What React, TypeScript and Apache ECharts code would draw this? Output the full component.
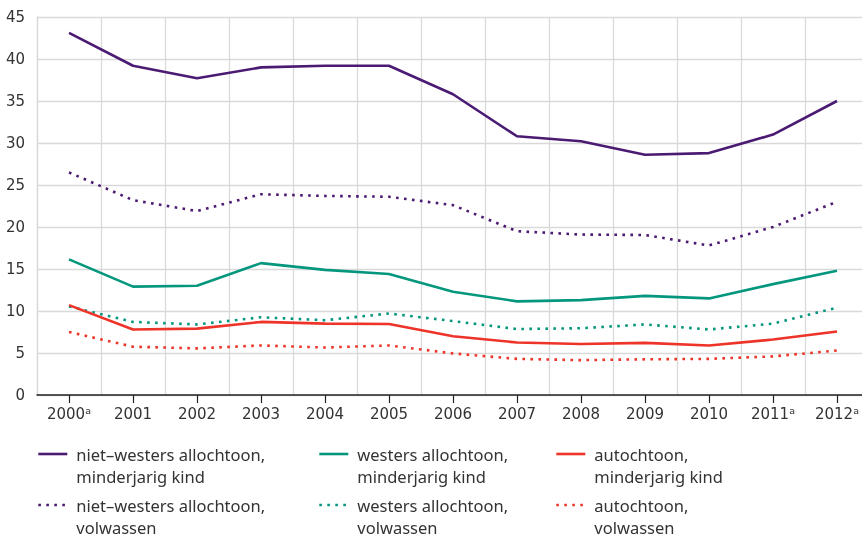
import React, { useEffect, useRef } from "react";
import * as echarts from "echarts";

const years = ["2000ᵃ", "2001", "2002", "2003", "2004", "2005", "2006", "2007", "2008", "2009", "2010", "2011ᵃ", "2012ᵃ"];
const yTicks = [0, 5, 10, 15, 20, 25, 30, 35, 40, 45];

const nwKind = [43.1, 39.2, 37.7, 39.0, 39.2, 39.2, 35.8, 30.8, 30.2, 28.6, 28.8, 31.0, 35.0];
const nwVolw = [26.5, 23.2, 21.9, 23.9, 23.7, 23.6, 22.6, 19.5, 19.1, 19.05, 17.8, 20.0, 23.0];
const wKind = [16.15, 12.9, 13.0, 15.7, 14.9, 14.4, 12.3, 11.15, 11.3, 11.8, 11.5, 13.2, 14.8];
const wVolw = [10.55, 8.7, 8.4, 9.25, 8.9, 9.7, 8.8, 7.85, 7.95, 8.4, 7.8, 8.5, 10.4];
const aKind = [10.7, 7.8, 7.9, 8.7, 8.5, 8.45, 7.0, 6.25, 6.07, 6.2, 5.9, 6.6, 7.55];
const aVolw = [7.5, 5.75, 5.55, 5.9, 5.65, 5.9, 4.95, 4.3, 4.15, 4.25, 4.3, 4.6, 5.3];

const names = [
  "niet–westers allochtoon,\nminderjarig kind",
  "westers allochtoon,\nminderjarig kind",
  "autochtoon,\nminderjarig kind",
  "niet–westers allochtoon,\nvolwassen",
  "westers allochtoon,\nvolwassen",
  "autochtoon,\nvolwassen",
];
const colors = ["#4b1a72", "#05977d", "#ee3328", "#4b1a72", "#05977d", "#ee3328"];
const seriesData = [nwKind, wKind, aKind, nwVolw, wVolw, aVolw];

const FONT = "Noto Sans";
const AXIS_FONT = "DejaVu Sans";
const TEXT = "#333333";
const GRID = "#d9d9d9";

export default function App() {
  const ref = useRef<HTMLDivElement>(null);
  useEffect(() => {
    if (!ref.current) return;
    const chart = echarts.init(ref.current, undefined, { renderer: "svg" });
    const legendPos = [
      [37, 0],
      [318, 0],
      [555, 0],
      [37, 1],
      [318, 1],
      [555, 1],
    ];
    const legends = names.map((n, i) => ({
      data: [n],
      left: legendPos[i][0],
      top: 421 + legendPos[i][1] * 51,
      itemWidth: 29,
      itemHeight: 14,
      itemGap: 0,
      padding: 0,
      selectedMode: false,
      itemStyle: { opacity: 0 },
      lineStyle: { width: 2.6 },
      formatter: (name: string) => "\n" + name,
      textStyle: {
        fontFamily: FONT,
        fontSize: 16.5,
        color: TEXT,
        lineHeight: 22,
        padding: [0, 0, 0, 4],
      },
    }));
    chart.setOption({
      animation: false,
      textStyle: { fontFamily: FONT },
      grid: { left: 37, right: 0, top: 17, bottom: 142, containLabel: false },
      legend: legends,
      xAxis: {
        type: "category",
        data: years,
        boundaryGap: true,
        axisLine: { show: true, lineStyle: { color: "#222", width: 1.5 } },
        axisTick: { show: true, alignWithLabel: true, length: 8, lineStyle: { color: "#222", width: 1.2 } },
        axisLabel: { color: TEXT, fontSize: 15, fontFamily: AXIS_FONT, margin: 11 },
        splitLine: { show: true, lineStyle: { color: GRID, width: 1.3 } },
      },
      yAxis: {
        type: "value",
        min: yTicks[0],
        max: yTicks[yTicks.length - 1],
        interval: 5,
        axisLine: { show: true, lineStyle: { color: GRID, width: 1.3 } },
        axisTick: { show: false },
        axisLabel: { color: TEXT, fontSize: 15, fontFamily: AXIS_FONT, margin: 12 },
        splitLine: { show: true, lineStyle: { color: GRID, width: 1.3 } },
      },
      series: seriesData.map((d, i) => ({
        name: names[i],
        type: "line",
        data: d,
        symbol: "none",
        color: colors[i],
        z: i < 3 ? 3 : 2,
        lineStyle: {
          color: colors[i],
          width: 2.6,
          type: i < 3 ? "solid" : [2.6, 5.4],
          cap: "butt",
        },
      })),
    });
    return () => chart.dispose();
  }, []);
  return <div ref={ref} style={{ position: "fixed", left: 0, top: 0, width: 869, height: 537 }} />;
}
